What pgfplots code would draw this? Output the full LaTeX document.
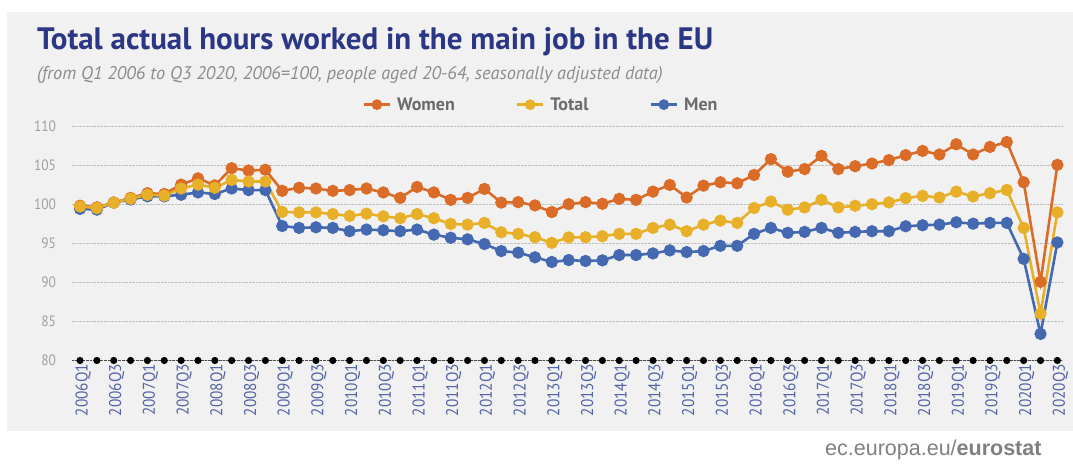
\documentclass[border=0pt]{standalone}
\usepackage{fontspec}
\setmainfont{PT Sans}
\newfontfamily\condfont[FakeStretch=0.9]{PT Sans}
\newfontfamily\titlefont{PT Sans}
\newfontfamily\footfont{Liberation Sans}
\usepackage{pgfplots}
\usepackage{pgfplotstable}
\pgfplotsset{compat=1.18}

\definecolor{women}{HTML}{DA6C28}
\definecolor{total}{HTML}{E8B028}
\definecolor{men}{HTML}{4469B0}
\definecolor{panel}{HTML}{F1F1F1}
\definecolor{titleblue}{HTML}{2B3784}
\definecolor{ticknavy}{HTML}{5565A5}
\definecolor{labgray}{HTML}{A0A0A0}
\definecolor{leggray}{HTML}{6B6B6B}
\definecolor{subgray}{HTML}{8C8C8C}
\definecolor{footgray}{HTML}{808080}

% quarterly index, 2006Q1 = 0 ... 2020Q3 = 58
\pgfplotstableread{
i  women  total  men
0  99.8   99.7   99.4
1  99.6   99.5   99.3
2  100.2  100.2  100.2
3  100.8  100.7  100.6
4  101.4  101.2  101.0
5  101.3  101.1  101.0
6  102.5  102.0  101.2
7  103.3  102.5  101.5
8  102.4  102.1  101.3
9  104.6  103.1  102.0
10 104.3  102.9  101.8
11 104.4  102.9  101.8
12 101.7  99.0   97.2
13 102.1  98.95  96.96
14 102.0  98.95  97.04
15 101.7  98.73  96.96
16 101.8  98.5   96.54
17 102.0  98.78  96.75
18 101.5  98.44  96.66
19 100.8  98.2   96.54
20 102.2  98.73  96.75
21 101.5  98.2   96.1
22 100.55 97.47  95.7
23 100.8  97.38  95.5
24 101.95 97.6   94.9
25 100.2  96.4   94.0
26 100.26 96.2   93.8
27 99.84  95.77  93.2
28 98.99  95.05  92.6
29 100.0  95.75  92.85
30 100.26 95.77  92.73
31 100.05 95.9   92.81
32 100.68 96.2   93.49
33 100.55 96.2   93.49
34 101.6  96.96  93.7
35 102.46 97.38  94.08
36 100.85 96.54  93.87
37 102.37 97.38  94.0
38 102.8  97.89  94.67
39 102.67 97.6   94.67
40 103.73 99.5   96.2
41 105.76 100.34 96.96
42 104.15 99.29  96.33
43 104.49 99.58  96.45
44 106.18 100.55 96.96
45 104.49 99.58  96.33
46 104.85 99.79  96.45
47 105.2  100.0  96.54
48 105.63 100.22 96.54
49 106.27 100.77 97.17
50 106.81 101.06 97.3
51 106.35 100.85 97.38
52 107.66 101.6  97.68
53 106.35 100.98 97.5
54 107.32 101.4  97.6
55 107.95 101.82 97.6
56 102.8  96.96  93.0
57 90.06  86.0   83.4
58 105.03 98.95  95.1
}\hours

\begin{document}
\begin{tikzpicture}[x=1bp,y=1bp]
\useasboundingbox (0,0) rectangle (1073,464);
\fill[panel] (7,33) rectangle (1090,452);

\node[anchor=base west, inner sep=0, text=titleblue, font=\titlefont\fontsize{31bp}{34bp}\bfseries\selectfont]
  at (37,414.5) {Total actual hours worked in the main job in the EU};
\node[anchor=base west, inner sep=0, text=subgray, font=\titlefont\fontsize{18.3bp}{20bp}\itshape\selectfont]
  at (37,384) {(from Q1 2006 to Q3 2020, 2006=100, people aged 20-64, seasonally adjusted data)};
\node[anchor=base west, inner sep=0, text=footgray, font=\footfont\fontsize{21.5bp}{24bp}\selectfont]
  at (825,8) {ec.europa.eu/\textbf{eurostat}};

\begin{axis}[
  at={(71.6bp,103.5bp)}, anchor=south west,
  scale only axis, width=990.8bp, height=234.5bp,
  xmin=-0.5, xmax=58.3, ymin=80, ymax=110,
  clip=false,
  axis line style={draw=none},
  major tick style={draw=none},
  ytick={80,85,...,110},
  ymajorgrids,
  grid style={black!25, densely dotted, line width=0.8bp},
  /pgf/number format/assume math mode=true,
  yticklabel style={font=\condfont\fontsize{15bp}{16bp}\selectfont, text=labgray, xshift=-12bp},
  xtick={0,2,...,58},
  xticklabels={2006Q1,2006Q3,2007Q1,2007Q3,2008Q1,2008Q3,2009Q1,2009Q3,2010Q1,2010Q3,
    2011Q1,2011Q3,2012Q1,2012Q3,2013Q1,2013Q3,2014Q1,2014Q3,2015Q1,2015Q3,
    2016Q1,2016Q3,2017Q1,2017Q3,2018Q1,2018Q3,2019Q1,2019Q3,2020Q1,2020Q3},
  xticklabel style={rotate=90, anchor=east, yshift=-3bp, font=\condfont\fontsize{17bp}{18bp}\selectfont, text=ticknavy},
  legend style={at={(0.4728,1.091)}, anchor=center, draw=none, fill=none,
    font=\titlefont\fontsize{18bp}{20bp}\bfseries\selectfont, text=leggray,
    nodes={inner sep=0pt},
    /tikz/every odd column/.append style={column sep=6bp},
    /tikz/every even column/.append style={column sep=61bp}},
  legend columns=3,
  legend image code/.code={\draw[#1, mark repeat=2, mark phase=2, mark size=4bp]
    plot coordinates {(0bp,0bp) (13bp,0bp) (26bp,0bp)};},
  every axis plot/.append style={line width=2.6bp, mark=*, mark size=4.8bp},
]
\addlegendimage{women, mark options={fill=women}}
\addlegendentry{Women}
\addlegendimage{total, mark options={fill=total}}
\addlegendentry{Total}
\addlegendimage{men, mark options={fill=men}}
\addlegendentry{Men}

\addplot[black!70, densely dotted, line width=1bp, mark=none, forget plot]
  coordinates {(-0.5,80) (58.3,80)};
\addplot[only marks, black, mark=*, mark size=2.2bp, forget plot] coordinates {
  (0,80) (1,80) (2,80) (3,80) (4,80) (5,80) (6,80) (7,80) (8,80) (9,80)
  (10,80) (11,80) (12,80) (13,80) (14,80) (15,80) (16,80) (17,80) (18,80) (19,80)
  (20,80) (21,80) (22,80) (23,80) (24,80) (25,80) (26,80) (27,80) (28,80) (29,80)
  (30,80) (31,80) (32,80) (33,80) (34,80) (35,80) (36,80) (37,80) (38,80) (39,80)
  (40,80) (41,80) (42,80) (43,80) (44,80) (45,80) (46,80) (47,80) (48,80) (49,80)
  (50,80) (51,80) (52,80) (53,80) (54,80) (55,80) (56,80) (57,80) (58,80)};

\addplot[men, mark options={fill=men}, forget plot] table[x=i, y=men] {\hours};
\addplot[women, mark options={fill=women}, forget plot] table[x=i, y=women] {\hours};
\addplot[total, mark options={fill=total}, forget plot] table[x=i, y=total] {\hours};
\end{axis}
\end{tikzpicture}
\end{document}
